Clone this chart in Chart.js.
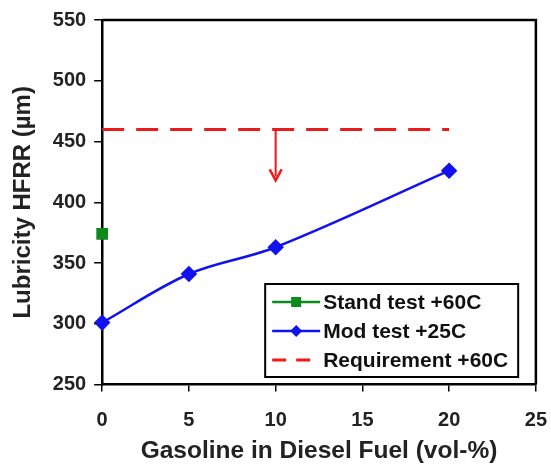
<!DOCTYPE html>
<html>
<head>
<meta charset="utf-8">
<script src="https://cdn.jsdelivr.net/npm/chart.js@4/dist/chart.umd.min.js"></script>
<style>
html,body{margin:0;padding:0;background:#fff;}
#wrap{position:relative;width:551px;height:470px;}
</style>
</head>
<body>
<div id="wrap"><canvas id="c" width="551" height="470"></canvas></div>
<script>
// Data
const standX = [0];
const standY = [374];
const modX = [0, 5, 10, 20];
const modY = [301, 341, 363, 426];
const reqX = [0, 20];
const reqY = [460, 460];
const arrowX = 10;
const arrowFrom = 460;
const arrowTo = 418;
const seriesNames = ['Stand test +60C', 'Mod test +25C', 'Requirement +60C'];
const xTitle = 'Gasoline in Diesel Fuel (vol-%)';
const yTitle = 'Lubricity HFRR (\u00b5m)';

const FONT = '"Liberation Sans", Arial, sans-serif';
const toPts = (xs, ys) => xs.map((x, i) => ({x: x, y: ys[i]}));

const framePlugin = {
  id: 'frame',
  afterDatasetsDraw(chart) {
    const {ctx, chartArea: a, scales} = chart;
    ctx.save();
    // arrow
    const ax = scales.x.getPixelForValue(arrowX);
    const y1 = scales.y.getPixelForValue(arrowFrom);
    const y2 = scales.y.getPixelForValue(arrowTo);
    ctx.strokeStyle = '#f01818';
    ctx.fillStyle = '#f01818';
    ctx.lineWidth = 2;
    ctx.beginPath(); ctx.moveTo(ax, y1); ctx.lineTo(ax, y2 - 4); ctx.stroke();
    ctx.lineWidth = 2.5;
    ctx.beginPath();
    ctx.moveTo(ax - 6, y2 - 11); ctx.lineTo(ax, y2); ctx.lineTo(ax + 6, y2 - 11);
    ctx.stroke();
    // top/right frame
    ctx.strokeStyle = '#000';
    ctx.lineWidth = 2.5;
    ctx.beginPath();
    ctx.moveTo(a.left, a.top); ctx.lineTo(a.right, a.top); ctx.lineTo(a.right, a.bottom);
    ctx.stroke();
    // legend box
    const bx = a.left + 163, by = a.top + 264;
    const bw = 253, bh = 93;
    ctx.fillStyle = '#fff';
    ctx.fillRect(bx, by, bw, bh);
    ctx.lineWidth = 2;
    ctx.strokeStyle = '#000';
    ctx.strokeRect(bx, by, bw, bh);
    const ds = chart.data.datasets;
    ctx.font = 'bold 21px ' + FONT;
    ctx.textBaseline = 'middle';
    ctx.textAlign = 'left';
    for (let i = 0; i < 3; i++) {
      const d = ds[i];
      const ly = by + 18 + i * 29;
      const lx0 = bx + 7, lx1 = bx + 55;
      ctx.strokeStyle = d.borderColor;
      ctx.lineWidth = d.borderWidth;
      ctx.setLineDash(d.borderDash ? [14, 10] : []);
      ctx.beginPath(); ctx.moveTo(lx0, ly); ctx.lineTo(lx1, ly); ctx.stroke();
      ctx.setLineDash([]);
      const mx = (lx0 + lx1) / 2;
      ctx.fillStyle = d.pointBackgroundColor;
      if (d.pointStyle === 'rect') {
        ctx.fillRect(mx - 5, ly - 5, 10, 10);
      } else if (d.pointStyle === 'rectRot') {
        ctx.beginPath(); ctx.moveTo(mx, ly - 6); ctx.lineTo(mx + 6, ly); ctx.lineTo(mx, ly + 6); ctx.lineTo(mx - 6, ly); ctx.closePath(); ctx.fill();
      }
      ctx.fillStyle = '#111';
      ctx.fillText(seriesNames[i], lx1 + 3, ly + 1);
    }
    ctx.restore();
  }
};

new Chart(document.getElementById('c'), {
  type: 'scatter',
  data: {
    datasets: [
      {label: seriesNames[0], data: toPts(standX, standY), borderColor: '#0e8a1a', backgroundColor: '#0e8a1a',
       pointBackgroundColor: '#0e8a1a', pointBorderColor: '#0e8a1a', pointStyle: 'rect', pointRadius: 6.5, borderWidth: 2.5, clip: false},
      {label: seriesNames[1], data: toPts(modX, modY), showLine: true, tension: 0.35, borderColor: '#1212ee', backgroundColor: '#1212ee',
       pointBackgroundColor: '#1212ee', pointBorderColor: '#1212ee', pointStyle: 'rectRot', pointRadius: 6.5, borderWidth: 2.5, clip: false},
      {label: seriesNames[2], data: toPts(reqX, reqY), showLine: true, borderColor: '#e81c1c', backgroundColor: '#e81c1c',
       pointBackgroundColor: '#e81c1c', borderDash: [22, 12], pointRadius: 0, borderWidth: 3, clip: false}
    ]
  },
  options: {
    responsive: false,
    animation: false,
    layout: {padding: {left: 9, right: 0, top: 8, bottom: 2}},
    plugins: {legend: {display: false}, tooltip: {enabled: false}},
    scales: {
      x: {
        type: 'linear', min: 0, max: 25,
        ticks: {stepSize: 5, color: '#222', font: {family: FONT, size: 20, weight: 'bold', lineHeight: 2.5}, padding: 4},
        grid: {display: true, drawOnChartArea: false, drawTicks: true, tickLength: 7, color: '#000', lineWidth: 1.5},
        border: {display: true, color: '#000', width: 2.5},
        title: {display: true, text: xTitle, color: '#222', font: {family: FONT, size: 24.5, weight: 'bold'}, padding: {top: -13, bottom: 2}}
      },
      y: {
        type: 'linear', min: 250, max: 550,
        ticks: {stepSize: 50, color: '#222', font: {family: FONT, size: 20, weight: 'bold'}, padding: 8},
        grid: {display: true, drawOnChartArea: false, drawTicks: true, tickLength: 8, color: '#000', lineWidth: 1.5},
        border: {display: true, color: '#000', width: 2.5},
        title: {display: true, text: yTitle, color: '#222', font: {family: FONT, size: 24, weight: 'bold'}, padding: {top: 0, bottom: 7}}
      }
    }
  },
  plugins: [framePlugin]
});
</script>
</body>
</html>
